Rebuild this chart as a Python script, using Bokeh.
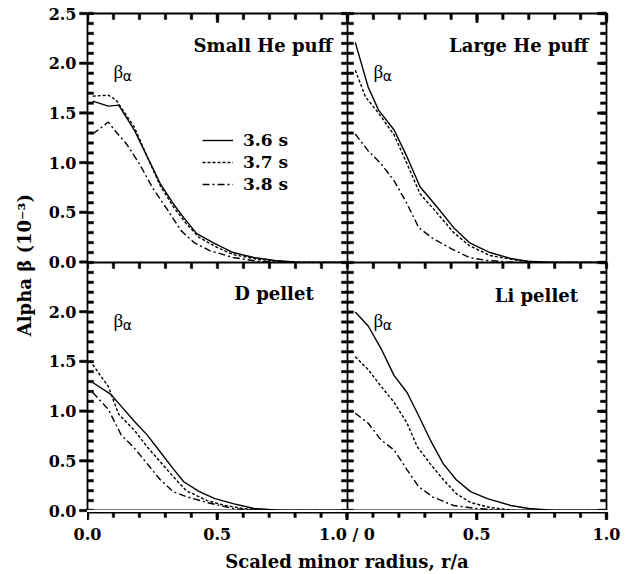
import math
from bokeh.plotting import figure
from bokeh.layouts import row, column
from bokeh.models import LinearAxis, FixedTicker, Range1d, Label, Legend, LegendItem
from bokeh.embed import file_html
from bokeh.resources import INLINE

# ---------------- data ----------------
times = ["3.6 s", "3.7 s", "3.8 s"]
panel_titles = ["Small He puff", "Large He puff", "D pellet", "Li pellet"]

# Small He puff
she_x_36 = [0.02, 0.08, 0.12, 0.18, 0.23, 0.28, 0.33, 0.37, 0.42, 0.49, 0.56, 0.64, 0.72, 0.82, 1.0]
she_y_36 = [1.62, 1.57, 1.58, 1.33, 1.06, 0.79, 0.59, 0.45, 0.29, 0.19, 0.10, 0.05, 0.02, 0.0, 0.0]
she_x_37 = [0.02, 0.08, 0.11, 0.18, 0.23, 0.28, 0.33, 0.38, 0.43, 0.50, 0.56, 0.66, 0.80, 1.0]
she_y_37 = [1.67, 1.68, 1.63, 1.36, 1.06, 0.77, 0.56, 0.39, 0.25, 0.15, 0.08, 0.03, 0.0, 0.0]
she_x_38 = [0.02, 0.08, 0.11, 0.15, 0.20, 0.25, 0.31, 0.36, 0.41, 0.47, 0.56, 0.66, 0.80, 1.0]
she_y_38 = [1.29, 1.41, 1.31, 1.19, 0.99, 0.75, 0.52, 0.32, 0.20, 0.12, 0.05, 0.01, 0.0, 0.0]

# Large He puff
lhe_x_36 = [0.03, 0.08, 0.12, 0.18, 0.23, 0.28, 0.345, 0.41, 0.47, 0.55, 0.63, 0.70, 0.80, 1.0]
lhe_y_36 = [2.21, 1.76, 1.53, 1.33, 1.06, 0.76, 0.56, 0.35, 0.20, 0.10, 0.04, 0.01, 0.0, 0.0]
lhe_x_37 = [0.03, 0.07, 0.12, 0.18, 0.23, 0.28, 0.345, 0.41, 0.47, 0.55, 0.66, 0.78, 1.0]
lhe_y_37 = [1.93, 1.66, 1.50, 1.28, 0.99, 0.69, 0.50, 0.30, 0.17, 0.07, 0.02, 0.0, 0.0]
lhe_x_38 = [0.03, 0.08, 0.13, 0.18, 0.23, 0.275, 0.33, 0.40, 0.47, 0.54, 0.65, 1.0]
lhe_y_38 = [1.29, 1.12, 0.99, 0.82, 0.59, 0.35, 0.24, 0.14, 0.05, 0.02, 0.0, 0.0]

# D pellet
dp_x_36 = [0.02, 0.09, 0.13, 0.18, 0.23, 0.28, 0.33, 0.37, 0.43, 0.49, 0.56, 0.64, 0.75, 1.0]
dp_y_36 = [1.29, 1.17, 1.05, 0.90, 0.76, 0.59, 0.42, 0.29, 0.19, 0.12, 0.07, 0.02, 0.0, 0.0]
dp_x_37 = [0.02, 0.08, 0.12, 0.18, 0.23, 0.28, 0.33, 0.38, 0.46, 0.53, 0.60, 0.70, 1.0]
dp_y_37 = [1.47, 1.25, 0.97, 0.81, 0.64, 0.49, 0.34, 0.20, 0.10, 0.05, 0.02, 0.0, 0.0]
dp_x_38 = [0.02, 0.08, 0.13, 0.18, 0.23, 0.28, 0.33, 0.38, 0.46, 0.56, 0.65, 1.0]
dp_y_38 = [1.19, 1.02, 0.76, 0.63, 0.47, 0.31, 0.19, 0.14, 0.08, 0.02, 0.0, 0.0]

# Li pellet
li_x_36 = [0.03, 0.08, 0.13, 0.18, 0.23, 0.27, 0.32, 0.37, 0.42, 0.475, 0.54, 0.63, 0.70, 0.80, 1.0]
li_y_36 = [2.00, 1.86, 1.63, 1.36, 1.19, 0.98, 0.71, 0.47, 0.31, 0.19, 0.12, 0.05, 0.02, 0.0, 0.0]
li_x_37 = [0.03, 0.08, 0.13, 0.18, 0.23, 0.27, 0.32, 0.37, 0.42, 0.475, 0.55, 0.65, 1.0]
li_y_37 = [1.55, 1.42, 1.25, 1.09, 0.88, 0.64, 0.47, 0.31, 0.17, 0.08, 0.03, 0.0, 0.0]
li_x_38 = [0.03, 0.08, 0.13, 0.18, 0.23, 0.275, 0.33, 0.41, 0.50, 0.60, 1.0]
li_y_38 = [0.98, 0.88, 0.71, 0.61, 0.41, 0.24, 0.135, 0.05, 0.02, 0.0, 0.0]

# ticks and tick labels
x_major = [0.0, 0.5, 1.0]
x_minor = [round(0.1 * i, 1) for i in range(11)]
y_major = [0.0, 0.5, 1.0, 1.5, 2.0, 2.5]
y_minor = [round(0.1 * i, 1) for i in range(26)]
y_tick_labels = ["0.0", "0.5", "1.0", "1.5", "2.0", "2.5"]
x_tick_labels = ["0.0", "0.5", "1.0 / 0", "0.5", "1.0"]
y_axis_title = "Alpha \u03b2  (10\u207b\u00b3)"
x_axis_title = "Scaled minor radius, r/a"

# ---------------- styling ----------------
FONT = "DejaVu Serif"
TICK_FS = "16px"
dashes = ["solid", "3 2", "7 3 2 3"]
LINE_W = 1.4
AX_W = 1.8
TICK_T = 2.4        # tick thickness, px
FRAME_W = 260
FRAME_W_R = 259
FRAME_H_TOP = 249
FRAME_H_BOT = 248
TOP_B = 13
RIGHT_B = 20
Y_LAB_W = 79        # room for y tick labels and title
TICK_STRIP = 8      # room for outward left ticks
BOT_STRIP = 10      # room for outward bottom ticks


def line_axis():
    ax = LinearAxis(ticker=FixedTicker(ticks=[], minor_ticks=[]),
                    major_tick_in=0, major_tick_out=0, minor_tick_in=0, minor_tick_out=0,
                    major_label_standoff=0)
    ax.axis_line_width = AX_W
    ax.axis_line_color = "black"
    return ax


def blank(fig):
    fig.outline_line_color = None
    fig.background_fill_color = None
    fig.border_fill_color = None
    for g in fig.grid:
        g.visible = False


def tick_marks(fig, side, pos, length_px):
    """Short filled tick bars pointing from a frame edge into the frame."""
    xr, yr = fig.x_range, fig.y_range
    upx = (xr.end - xr.start) / fig.frame_width
    upy = (yr.end - yr.start) / fig.frame_height
    n = len(pos)
    if side in ("left", "right"):
        if side == "left":
            l, r = [xr.start] * n, [xr.start + upx * length_px] * n
        else:
            l, r = [xr.end - upx * length_px] * n, [xr.end] * n
        b = [v - upy * TICK_T / 2 for v in pos]
        t = [v + upy * TICK_T / 2 for v in pos]
    else:
        l = [v - upx * TICK_T / 2 for v in pos]
        r = [v + upx * TICK_T / 2 for v in pos]
        if side == "top":
            b, t = [yr.end - upy * length_px] * n, [yr.end] * n
        else:
            b, t = [yr.start] * n, [yr.start + upy * length_px] * n
    fig.quad(left=l, right=r, bottom=b, top=t, fill_color="black", line_color="black",
             line_width=0.5, level="overlay")


def make_panel(pos, xs, ys, title, title_x, title_y):
    left = pos in ("tl", "bl")
    top = pos in ("tl", "tr")
    p = figure(title=None, frame_width=FRAME_W if left else FRAME_W_R,
               frame_height=FRAME_H_TOP if top else FRAME_H_BOT,
               x_range=Range1d(0, 1), y_range=Range1d(0, 2.5),
               x_axis_location=None, y_axis_location=None,
               toolbar_location=None, output_backend="svg",
               min_border_left=0, min_border_right=0 if left else RIGHT_B,
               min_border_top=TOP_B if top else 0, min_border_bottom=0)
    blank(p)
    for side in ("left", "right", "above", "below"):
        p.add_layout(line_axis(), side)

    tick_marks(p, "left", y_minor, 6)
    tick_marks(p, "right", y_minor, 6)
    if not left:
        tick_marks(p, "right", y_major, 9)
    tick_marks(p, "top", x_minor, 6)
    if top:
        tick_marks(p, "top", x_major, 9)

    renderers = []
    for x, y, d in zip(xs, ys, dashes):
        renderers.append(p.line(x, y, line_color="black", line_width=LINE_W, line_dash=d))

    p.add_layout(Label(x=title_x, y=title_y, text=title, text_align="right",
                       text_baseline="alphabetic", text_font=FONT, text_font_style="bold",
                       text_font_size="18px", text_color="black"))
    p.add_layout(Label(x=0.1, y=1.92, text="\u03b2", text_align="left",
                       text_baseline="alphabetic", text_font="Liberation Serif",
                       text_font_size="19px", text_color="black"))
    p.add_layout(Label(x=0.136, y=1.87, text="\u03b1", text_align="left",
                       text_baseline="alphabetic", text_font="DejaVu Sans",
                       text_font_size="14px", text_color="black"))
    return p, renderers


p1, r1 = make_panel("tl", [she_x_36, she_x_37, she_x_38], [she_y_36, she_y_37, she_y_38],
                    panel_titles[0], 0.942, 2.18)
p2, _ = make_panel("tr", [lhe_x_36, lhe_x_37, lhe_x_38], [lhe_y_36, lhe_y_37, lhe_y_38],
                   panel_titles[1], 0.93, 2.18)
p3, _ = make_panel("bl", [dp_x_36, dp_x_37, dp_x_38], [dp_y_36, dp_y_37, dp_y_38],
                   panel_titles[2], 0.87, 2.19)
p4, _ = make_panel("br", [li_x_36, li_x_37, li_x_38], [li_y_36, li_y_37, li_y_38],
                   panel_titles[3], 0.89, 2.17)

legend = Legend(items=[LegendItem(label=t, renderers=[r]) for t, r in zip(times, r1)],
                location=(115, 68), orientation="vertical",
                glyph_width=31, glyph_height=20, label_height=20, label_width=40,
                spacing=2, padding=0, margin=0, label_standoff=10,
                border_line_color=None, background_fill_alpha=0,
                label_text_font=FONT, label_text_font_style="bold",
                label_text_font_size="17px", label_text_color="black")
p1.add_layout(legend)

# ---- outward bottom ticks strip (two panels side by side: 0..2) ----
x_all_ticks = [0.0, 0.5, 1.0, 1.5, 2.0]
x_all_minor = x_minor + [round(1.0 + t, 1) for t in x_minor[1:]]
xtick = figure(title=None, frame_width=FRAME_W + FRAME_W_R, frame_height=BOT_STRIP,
               x_range=Range1d(0, 2), y_range=Range1d(0, 1),
               x_axis_location=None, y_axis_location=None, toolbar_location=None,
               output_backend="svg", min_border_left=0, min_border_right=RIGHT_B,
               min_border_top=0, min_border_bottom=0)
blank(xtick)
tick_marks(xtick, "top", x_all_minor, 5)
tick_marks(xtick, "top", x_all_ticks, 8)
xtick.add_layout(line_axis(), "above")

# ---- shared y strip: outward left ticks, tick labels and title (two panels: 0..5) ----
y_all_ticks = y_major + [2.5 + t for t in y_major[1:]]
y_all_labels = y_tick_labels[:-1] + y_tick_labels
ystrip = figure(title=None, frame_width=TICK_STRIP, frame_height=FRAME_H_TOP + FRAME_H_BOT,
                x_range=Range1d(0, 1), y_range=Range1d(0, 5),
                x_axis_location=None, y_axis_location=None, toolbar_location=None,
                output_backend="svg", min_border_left=Y_LAB_W, min_border_right=0,
                min_border_top=TOP_B, min_border_bottom=BOT_STRIP)
blank(ystrip)
tick_marks(ystrip, "right", y_all_ticks, 8)
ystrip.add_layout(line_axis(), "right")
yax = LinearAxis(ticker=FixedTicker(ticks=y_all_ticks, minor_ticks=[]),
                 major_tick_in=0, major_tick_out=0, minor_tick_in=0, minor_tick_out=0,
                 axis_line_color=None, major_label_standoff=3,
                 major_label_overrides={t: l for t, l in zip(y_all_ticks, y_all_labels)},
                 major_label_text_font=FONT, major_label_text_font_style="bold",
                 major_label_text_font_size=TICK_FS, major_label_text_color="black",
                 axis_label=y_axis_title, axis_label_standoff=11,
                 axis_label_text_font=FONT, axis_label_text_font_style="bold",
                 axis_label_text_font_size="18px", axis_label_text_color="black")
ystrip.add_layout(yax, "left")

# ---- shared x tick labels and title (two panels: 0..2) ----
xlab = figure(title=None, frame_width=FRAME_W + FRAME_W_R, frame_height=1,
              x_range=Range1d(0, 2), y_range=Range1d(0, 1),
              x_axis_location=None, y_axis_location=None, toolbar_location=None,
              output_backend="svg", min_border_left=Y_LAB_W + TICK_STRIP,
              min_border_right=RIGHT_B, min_border_top=0, min_border_bottom=0)
blank(xlab)
xax = LinearAxis(ticker=FixedTicker(ticks=x_all_ticks, minor_ticks=[]),
                 major_tick_in=0, major_tick_out=0, minor_tick_in=0, minor_tick_out=0,
                 axis_line_color=None, major_label_standoff=3,
                 major_label_overrides={t: l for t, l in zip(x_all_ticks, x_tick_labels)},
                 major_label_text_font=FONT, major_label_text_font_style="bold",
                 major_label_text_font_size=TICK_FS, major_label_text_color="black",
                 axis_label=x_axis_title, axis_label_standoff=4,
                 axis_label_text_font=FONT, axis_label_text_font_style="bold",
                 axis_label_text_font_size="18px", axis_label_text_color="black")
xlab.add_layout(xax, "below")

layout = column(row(ystrip, column(row(p1, p2), row(p3, p4), xtick)), xlab)

open("out.html", "w").write(file_html(layout, INLINE))
